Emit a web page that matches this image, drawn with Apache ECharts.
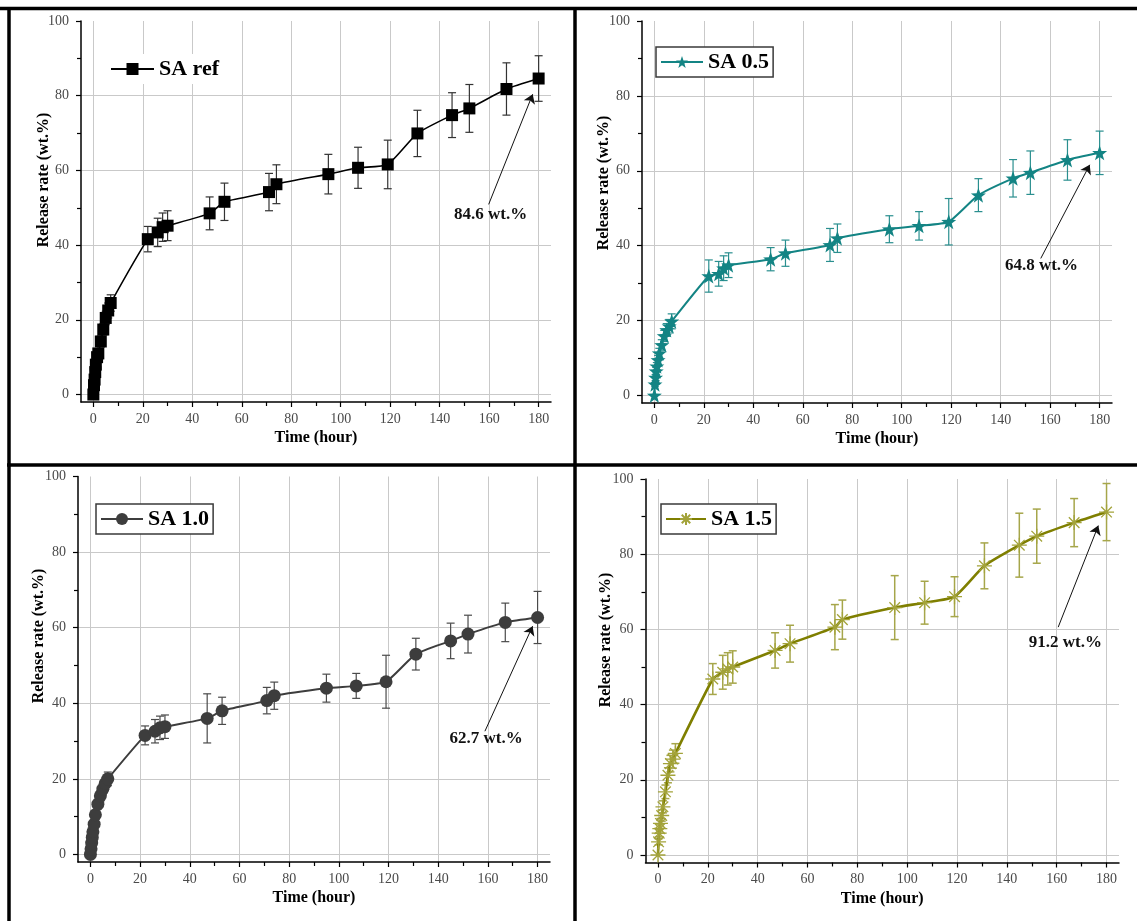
<!DOCTYPE html>
<html><head><meta charset="utf-8">
<script src="https://cdn.jsdelivr.net/npm/echarts@6/dist/echarts.min.js"></script>
<style>html,body{margin:0;padding:0;background:#fff}#c{width:1137px;height:921px}</style>
</head><body><div id="c"></div>
<script>
// ---------- data ----------
const timeHours = [0,0.25,0.5,0.75,1,1.5,2,3,4,5,6,7,22,26,28,30,47,53,71,74,95,107,119,131,145,152,167,180];

const saRef    = [0,2.5,4,6,8,10,11,14.2,17.4,20.5,22.5,24.5,41.6,43.4,44.8,45.2,48.5,51.6,54.2,56.3,59.0,60.7,61.6,69.9,74.8,76.6,81.8,84.6];
const saRefErr = [0,0.5,0.8,1,1,1.2,1.3,1.5,1.5,1.8,2,2.2,3.4,3.8,3.8,4,4.4,5,5,5.2,5.3,5.5,6.5,6.2,6,6.4,7,6.1];

const sa05     = [0,3,4.8,6.5,7.8,9.5,11.3,13.5,15.9,17.5,18.5,19.8,31.9,32.5,34,34.8,36.4,38,40.2,42,44.4,45.3,46.4,53.5,58,59.5,62.9,64.8];
const sa05Err  = [0,0.5,0.8,1,1,1.2,1.3,1.4,1.5,1.7,1.8,2,4.3,3.3,3.3,3.3,3.1,3.5,4.4,3.8,3.6,3.8,6.2,4.4,5,5.8,5.4,5.8];

const sa10     = [0,1.5,3,4.5,6,8,10.5,13.3,15.5,17.3,18.8,20,31.5,32.6,33.5,33.8,36,38,40.7,42,44,44.6,45.7,53,56.5,58.3,61.4,62.7];
const sa10Err  = [0,0.4,0.6,0.8,1,1,1.2,1.3,1.4,1.5,1.6,1.8,2.5,3.1,3.1,3.1,6.5,3.6,3.5,3.6,3.7,3.3,7,4.2,4.7,5,5.1,6.9];

const sa15     = [0,3.5,5.8,7,8.4,10.5,12.8,16.8,21.2,24.3,25.5,27,46.8,48.6,49.5,50,54.4,56.2,60.6,62.6,65.8,67.1,68.7,76.9,82.4,84.8,88.4,91.2];
const sa15Err  = [0,0.8,1,1.2,1.3,1.5,1.6,1.8,2,2.2,2.4,2.6,4.1,4.5,4.3,4.3,4.7,4.9,6,5.2,8.5,5.7,5.3,6.1,8.5,7.2,6.4,7.6];

const seriesNames = ['SA ref','SA 0.5','SA 1.0','SA 1.5'];
const seriesValues = [saRef, sa05, sa10, sa15];
const seriesErrors = [saRefErr, sa05Err, sa10Err, sa15Err];

const xTickValues = [0,20,40,60,80,100,120,140,160,180];
const xMinorValues = [10,30,50,70,90,110,130,150,170];
const yTickValues = [0,20,40,60,80,100];
const yMinorValues = [10,30,50,70,90];
const yGridValues = [0,20,40,60,80];

const finalLabels = ['84.6 wt.%','64.8 wt.%','62.7 wt.%','91.2 wt.%'];
const labelAnchors = [[160.6,48.3],[156.5,34.6],[159.3,30.6],[163.5,56.5]];
const arrowFrom = [[159.8,50.9],[156.2,36.6],[158.8,32.6],[160.6,60.6]];
const arrowTo = [[177.6,80.4],[176.0,61.6],[178.0,60.4],[176.7,87.6]];

const xTitle = 'Time (hour)';
const yTitle = 'Release rate (wt.%)';

// ---------- styling ----------
const SERIF = "'Liberation Serif','DejaVu Serif',serif";
const grids = [
  {left: 81, top: 21, width: 470, height: 381},
  {left: 642, top: 21, width: 470, height: 382},
  {left: 78, top: 476.5, width: 472, height: 385.5},
  {left: 645.5, top: 479, width: 473.5, height: 383.5}
];
const lineColors = ['#000000','#138484','#3d3d3d','#7f7f00'];
const markColors = ['#000000','#138484','#3d3d3d','#a3a33a'];
const errColors  = ['#333333','#2a8f8f','#4a4a4a','#a6a64a'];
const lineWidths = [1.6, 2, 2, 2.6];
const STAR = 'path://M0,-10L2.35,-3.24L9.51,-3.09L3.8,1.24L5.88,8.09L0,4L-5.88,8.09L-3.8,1.24L-9.51,-3.09L-2.35,-3.24Z';
const ASTER = 'path://M0,-10L0,10M-10,0L10,0M-7.07,-7.07L7.07,7.07M-7.07,7.07L7.07,-7.07';
const symbols = ['rect', STAR, 'circle', ASTER];
const symbolSizes = [12,15,13,15];
const legendPos = [
  {left: 106, top: 54, border: 0, itemWidth: 43},
  {left: 656, top: 47, border: 1.5, itemWidth: 42},
  {left: 96, top: 504, border: 1.5, itemWidth: 42},
  {left: 661, top: 504, border: 1.5, itemWidth: 40}
];
const yTitlePos = [[44,180],[604,183],[39,636],[606,640]];

function errorBarRenderer(color, width, cap) {
  return function (params, api) {
    const x = api.value(0), y = api.value(1), e = api.value(2);
    if (!e) return null;
    const hi = api.coord([x, y + e]);
    const lo = api.coord([x, y - e]);
    const st = {stroke: color, lineWidth: width};
    return {type: 'group', children: [
      {type: 'line', shape: {x1: hi[0], y1: hi[1], x2: lo[0], y2: lo[1]}, style: st},
      {type: 'line', shape: {x1: hi[0]-cap, y1: hi[1], x2: hi[0]+cap, y2: hi[1]}, style: st},
      {type: 'line', shape: {x1: lo[0]-cap, y1: lo[1], x2: lo[0]+cap, y2: lo[1]}, style: st}
    ]};
  };
}

const tickLabelStyle = {color: '#4a4a4a', fontFamily: SERIF, fontSize: 14};
const axisLineStyle = {color: '#000', width: 1.5};

const xAxes = [], yAxes = [], series = [], legends = [];
grids.forEach((g, i) => {
  xAxes.push({
    type: 'value', gridIndex: i, position: 'bottom', min: -5, max: 185,
    axisLine: {show: true, onZero: false, lineStyle: axisLineStyle},
    axisTick: {show: true, inside: false, length: 5, customValues: xTickValues, lineStyle: {color: '#000', width: 1.2}},
    axisLabel: Object.assign({show: true, margin: 10, customValues: xTickValues}, tickLabelStyle),
    splitLine: {show: true, lineStyle: {color: '#c9c9c9', width: 1}},
    name: xTitle, nameLocation: 'middle', nameGap: 28,
    nameTextStyle: {fontFamily: SERIF, fontWeight: 'bold', fontSize: 16, color: '#000'}
  });
  xAxes.push({
    type: 'value', gridIndex: i, position: 'bottom', min: -5, max: 185,
    axisLine: {show: false, onZero: false},
    axisTick: {show: true, inside: false, length: 4, customValues: xMinorValues, lineStyle: {color: '#000', width: 1.2}},
    axisLabel: {show: false}, splitLine: {show: false}
  });
  yAxes.push({
    type: 'value', gridIndex: i, position: 'left', min: -2, max: 100,
    axisLine: {show: true, onZero: false, lineStyle: axisLineStyle},
    axisTick: {show: true, inside: false, length: 5, customValues: yTickValues, lineStyle: {color: '#000', width: 1.2}},
    axisLabel: Object.assign({show: true, margin: 12, customValues: yTickValues}, tickLabelStyle),
    splitLine: {show: false}
  });
  yAxes.push({
    type: 'value', gridIndex: i, position: 'left', min: -2, max: 100,
    axisLine: {show: false, onZero: false},
    axisTick: {show: true, inside: false, length: 4, customValues: yMinorValues, lineStyle: {color: '#000', width: 1.2}},
    axisLabel: {show: false}, splitLine: {show: false}
  });
  yAxes.push({
    type: 'value', gridIndex: i, position: 'left', min: -2, max: 100,
    axisLine: {show: false, onZero: false},
    axisTick: {show: false, customValues: yGridValues},
    axisLabel: {show: false},
    splitLine: {show: true, lineStyle: {color: '#c9c9c9', width: 1}}
  });

  const vals = seriesValues[i], errs = seriesErrors[i];
  series.push({
    type: 'custom', name: seriesNames[i] + ' error', xAxisIndex: i*2, yAxisIndex: i*3,
    renderItem: errorBarRenderer(errColors[i], i === 3 ? 1.5 : 1.2, 4),
    data: timeHours.map((t, k) => [t, vals[k], errs[k]]),
    encode: {x: 0, y: 1}, z: 2, silent: true
  });
  series.push({
    type: 'line', name: seriesNames[i], xAxisIndex: i*2, yAxisIndex: i*3,
    data: timeHours.map((t, k) => [t, vals[k]]),
    smooth: 0.18,
    symbol: symbols[i], symbolSize: symbolSizes[i], showAllSymbol: true,
    lineStyle: {color: lineColors[i], width: lineWidths[i]},
    itemStyle: {color: markColors[i], borderColor: markColors[i], borderWidth: i === 3 ? 1.3 : 0},
    z: 3,
    markLine: {
      silent: true, symbol: ['none', 'arrow'], symbolSize: 9,
      label: {show: false}, lineStyle: {color: '#111', width: 1, type: 'solid'},
      data: [[{coord: arrowFrom[i]}, {coord: arrowTo[i]}]]
    },
    markPoint: {
      silent: true, symbol: 'circle', symbolSize: 1, itemStyle: {color: 'rgba(0,0,0,0)'},
      label: {show: true, position: 'inside', formatter: finalLabels[i], color: '#111',
              fontFamily: SERIF, fontWeight: 'bold', fontSize: 17},
      data: [{coord: labelAnchors[i]}]
    }
  });
  const lp = legendPos[i];
  legends.push({
    data: [seriesNames[i]], left: lp.left, top: lp.top, orient: 'horizontal',
    padding: [4, 4, 4, 4], itemWidth: lp.itemWidth, itemHeight: 15, itemGap: 5,
    borderColor: '#3a3a3a', borderWidth: lp.border, backgroundColor: '#fff',
    selectedMode: false,
    textStyle: {fontFamily: SERIF, fontWeight: 'bold', fontSize: 22, color: '#000'}
  });
});

const graphics = [
  {type: 'line', shape: {x1: 0, y1: 8.5, x2: 1137, y2: 8.5}, style: {stroke: '#000', lineWidth: 3.5}},
  {type: 'line', shape: {x1: 9, y1: 7, x2: 9, y2: 921}, style: {stroke: '#000', lineWidth: 3.5}},
  {type: 'line', shape: {x1: 575, y1: 7, x2: 575, y2: 921}, style: {stroke: '#000', lineWidth: 3.5}},
  {type: 'line', shape: {x1: 7, y1: 465, x2: 1137, y2: 465}, style: {stroke: '#000', lineWidth: 3.5}}
];
yTitlePos.forEach(p => graphics.push({
  type: 'text', x: p[0], y: p[1], rotation: Math.PI / 2,
  style: {text: yTitle, fill: '#000', font: "bold 16px 'Liberation Serif'", align: 'center', verticalAlign: 'middle'}
}));

const chart = echarts.init(document.getElementById('c'), null, {renderer: 'canvas'});
chart.setOption({
  backgroundColor: '#fff',
  animation: false,
  grid: grids.map(g => Object.assign({outerBoundsMode: 'none', containLabel: false}, g)),
  xAxis: xAxes, yAxis: yAxes, legend: legends, series: series, graphic: graphics
});
</script></body></html>
